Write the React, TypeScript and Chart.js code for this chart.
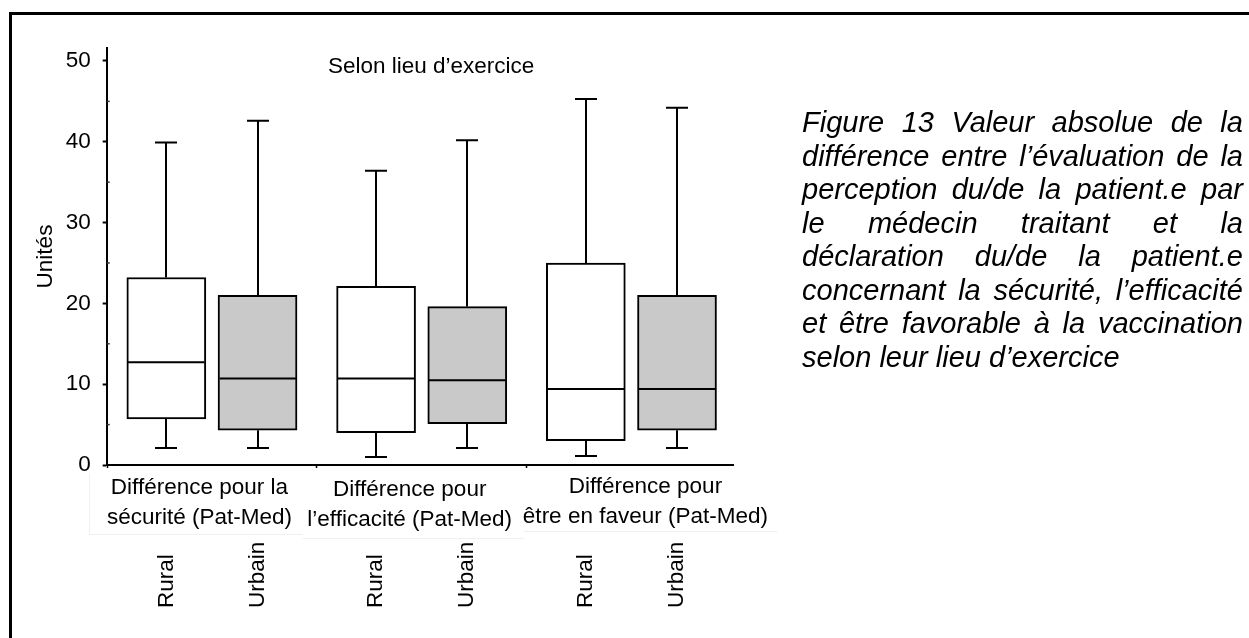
import React, { useEffect, useRef } from 'react';
import { Chart, registerables } from 'chart.js';

Chart.register(...registerables);

// ---------- data ----------
const groupLabels: string[][] = [
  ['Différence pour la', 'sécurité (Pat-Med)'],
  ['Différence pour', 'l’efficacité (Pat-Med)'],
  ['Différence pour', 'être en faveur (Pat-Med)'],
];
const places = ['Rural', 'Urbain', 'Rural', 'Urbain', 'Rural', 'Urbain'];
const boxPositions = [0, 1, 2.3, 3.3, 4.6, 5.6];
const whiskerLow = [2.1, 2.1, 1.0, 2.1, 1.1, 2.1];
const q1 = [5.7, 4.3, 4.0, 5.1, 3.0, 4.3];
const median = [12.7, 10.7, 10.7, 10.5, 9.4, 9.4];
const q3 = [23.2, 21.0, 22.1, 19.6, 25.0, 21.0];
const whiskerHigh = [39.9, 42.6, 36.4, 40.2, 45.3, 44.2];
const yMajorTicks = [0, 10, 20, 30, 40, 50];
const yMinorTicks = [5, 15, 25, 35, 45];
const chartTitle = 'Selon lieu d’exercice';
const yAxisTitle = 'Unités';
const captionLines = [
  'Figure 13 Valeur absolue de la',
  'différence entre l’évaluation de la',
  'perception du/de la patient.e par',
  'le médecin traitant et la',
  'déclaration du/de la patient.e',
  'concernant la sécurité, l’efficacité',
  'et être favorable à la vaccination',
  'selon leur lieu d’exercice',
];

// ---------- styling ----------
const FAMILY = '"Liberation Sans", Arial, Helvetica, sans-serif';
const FONT_SIZE = 22.5;
const RURAL_FILL = '#ffffff';
const URBAN_FILL = '#c9c9c9';

const groupCenters = groupLabels.map((_, g) => (boxPositions[2 * g] + boxPositions[2 * g + 1]) / 2);

const boxPlugin = {
  id: 'boxWhiskers',
  afterDatasetsDraw(chart: any) {
    const { ctx, scales, chartArea } = chart;
    const xs = scales.x;
    const ys = scales.y;
    const meta = chart.getDatasetMeta(0);
    ctx.save();
    ctx.strokeStyle = '#000';
    ctx.lineWidth = 2;
    ctx.lineCap = 'butt';
    const capHalf = 11;
    boxPositions.forEach((pos, i) => {
      const cx = Math.round(xs.getPixelForValue(pos));
      const bw = meta.data[i] ? meta.data[i].width : 79;
      const yMed = ys.getPixelForValue(median[i]);
      const yQ1 = ys.getPixelForValue(q1[i]);
      const yQ3 = ys.getPixelForValue(q3[i]);
      const yLo = ys.getPixelForValue(whiskerLow[i]);
      const yHi = ys.getPixelForValue(whiskerHigh[i]);
      ctx.beginPath();
      ctx.moveTo(cx - bw / 2 + 1, yMed);
      ctx.lineTo(cx + bw / 2 - 1, yMed);
      ctx.moveTo(cx, yQ3);
      ctx.lineTo(cx, yHi);
      ctx.moveTo(cx - capHalf, yHi);
      ctx.lineTo(cx + capHalf, yHi);
      ctx.moveTo(cx, yQ1);
      ctx.lineTo(cx, yLo);
      ctx.moveTo(cx - capHalf, yLo);
      ctx.lineTo(cx + capHalf, yLo);
      ctx.stroke();
    });
    // minor y ticks: tiny marks on the inner side of the axis
    ctx.strokeStyle = '#333';
    ctx.lineWidth = 1.5;
    yMinorTicks.forEach((v) => {
      const yy = ys.getPixelForValue(v);
      ctx.beginPath();
      ctx.moveTo(chartArea.left, yy);
      ctx.lineTo(chartArea.left + 3, yy);
      ctx.stroke();
    });
    ctx.restore();
  },
  afterDraw(chart: any) {
    const { ctx, scales, chartArea } = chart;
    const xs = scales.x;
    ctx.save();
    ctx.fillStyle = '#000';
    ctx.font = `${FONT_SIZE}px ${FAMILY}`;

    ctx.textAlign = 'left';
    ctx.textBaseline = 'alphabetic';
    ctx.fillText(chartTitle, 328, chartArea.top + 25);

    // faint label boxes
    const boxRects = [
      [89, 302, 534],
      [302, 523, 538],
      [523, 777, 531],
    ];
    ctx.strokeStyle = '#f0f0f0';
    ctx.lineWidth = 1;
    boxRects.forEach(([l, r, b], k) => {
      ctx.beginPath();
      if (k === 0) {
        ctx.moveTo(l + 0.5, chartArea.bottom + 8);
        ctx.lineTo(l + 0.5, b + 0.5);
      } else {
        ctx.moveTo(l + 0.5, b + 0.5);
      }
      ctx.lineTo(r + 0.5, b + 0.5);
      ctx.stroke();
    });

    const labelOffsets = [-12.5, -12, 14];
    const lineDy = [0, 2, -1];
    ctx.textAlign = 'center';
    ctx.textBaseline = 'middle';
    groupLabels.forEach((lines, g) => {
      const gx = xs.getPixelForValue(groupCenters[g]) + labelOffsets[g];
      lines.forEach((t, k) => {
        ctx.fillText(t, gx, chartArea.bottom + 23 + lineDy[g] + k * 29.5);
      });
    });

    places.forEach((p, i) => {
      const cx = xs.getPixelForValue(boxPositions[i]);
      ctx.save();
      ctx.translate(cx, chartArea.bottom + 143);
      ctx.rotate(-Math.PI / 2);
      ctx.textAlign = 'left';
      ctx.textBaseline = 'middle';
      ctx.fillText(p, 0, 0);
      ctx.restore();
    });
    ctx.restore();
  },
};

function BoxChart() {
  const ref = useRef<HTMLCanvasElement | null>(null);
  useEffect(() => {
    if (!ref.current) return;
    const font = { family: FAMILY, size: FONT_SIZE };
    const chart = new Chart(ref.current, {
      type: 'bar',
      data: {
        datasets: [
          {
            data: boxPositions.map((x, i) => ({ x, y: [q1[i], q3[i]] })) as any,
            backgroundColor: places.map((p) => (p === 'Rural' ? RURAL_FILL : URBAN_FILL)),
            borderColor: '#000',
            borderWidth: 2,
            borderSkipped: false,
            barThickness: 79,
          },
        ],
      },
      options: {
        responsive: true,
        maintainAspectRatio: false,
        animation: false,
        layout: { padding: { left: 28.5, top: 48, right: 516, bottom: 163 } },
        plugins: {
          legend: { display: false },
          tooltip: { enabled: false },
          title: { display: false },
        },
        scales: {
          x: {
            type: 'linear',
            min: -0.654,
            max: 6.214,
            offset: false,
            grid: {
              display: true,
              drawOnChartArea: false,
              drawTicks: true,
              tickLength: 3,
              tickColor: '#000',
              tickWidth: 1.5,
            },
            border: { display: true, color: '#000', width: 2 },
            ticks: { display: false },
            afterBuildTicks: (s: any) => {
              s.ticks = groupCenters.map((v) => ({ value: v }));
            },
            afterFit: (s: any) => {
              s.height = 10;
            },
          },
          y: {
            type: 'linear',
            min: 0,
            max: 51.6,
            grid: {
              display: true,
              drawOnChartArea: false,
              drawTicks: true,
              tickLength: 4,
              tickColor: '#000',
              tickWidth: 2,
            },
            border: { display: true, color: '#000', width: 2 },
            afterBuildTicks: (s: any) => {
              s.ticks = yMajorTicks.map((v) => ({ value: v }));
            },
            ticks: {
              autoSkip: false,
              padding: 12,
              color: '#000',
              font,
              callback: (v: any) => String(v),
            },
            title: {
              display: true,
              text: yAxisTitle,
              color: '#000',
              font,
              padding: { top: 4, bottom: 4 },
            },
            afterFit: (s: any) => {
              s.width = 78.2;
            },
          },
        },
      },
      plugins: [boxPlugin],
    });
    return () => chart.destroy();
  }, []);
  return <canvas ref={ref} />;
}

export default function App() {
  const captionFont = `italic 29px ${FAMILY}`;
  return (
    <div style={{ position: 'absolute', left: 0, top: 0, width: 1249, height: 638, background: '#fff', overflow: 'hidden' }}>
      <div
        style={{
          position: 'absolute',
          left: 9,
          top: 12,
          width: 1240,
          height: 626,
          borderTop: '3px solid #000',
          borderLeft: '3px solid #000',
          boxSizing: 'border-box',
        }}
      />
      <div style={{ position: 'absolute', left: 0, top: 0, width: 1249, height: 638 }}>
        <BoxChart />
      </div>
      <div
        style={{
          position: 'absolute',
          left: 802,
          top: 106,
          width: 441,
          font: captionFont,
          lineHeight: '33.5px',
          color: '#000',
        }}
      >
        {captionLines.map((line, i) =>
          i < captionLines.length - 1 ? (
            <div key={i} style={{ display: 'flex', justifyContent: 'space-between', height: '33.5px' }}>
              {line.split(' ').map((w, k) => (
                <span key={k}>{w}</span>
              ))}
            </div>
          ) : (
            <div key={i} style={{ height: '33.5px', whiteSpace: 'nowrap' }}>
              {line}
            </div>
          )
        )}
      </div>
    </div>
  );
}
